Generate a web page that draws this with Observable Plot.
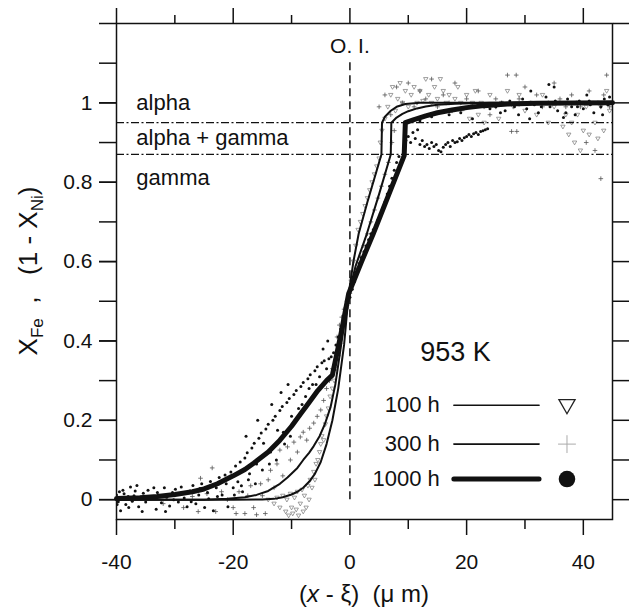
<!DOCTYPE html>
<html><head><meta charset="utf-8">
<script src="https://cdn.jsdelivr.net/npm/d3@7"></script>
<script src="https://cdn.jsdelivr.net/npm/@observablehq/plot@0.6"></script>
<style>body{margin:0;background:#fff} svg{font-family:"Liberation Sans",Arial,sans-serif}</style>
</head><body><div id="chart"></div>
<script>
const xMajor = [-40, -20, 0, 20, 40];
const xMinor = [-30, -10, 10, 30];
const yTicks = [0, 0.1, 0.2, 0.3, 0.4, 0.5, 0.6, 0.7, 0.8, 0.9, 1.0, 1.1, 1.2];
const yLabels = [0, 0.2, 0.4, 0.6, 0.8, 1];
const phaseBounds = [0.95, 0.87];
const phaseNames = ["alpha", "alpha + gamma", "gamma"];
const phaseY = [1.0, 0.912, 0.81];
const seriesNames = ["100 h", "300 h", "1000 h"];
const tempLabel = "953 K";
const oiLabel = "O. I.";

const curve100 = [[-40,0],[-20,0],[-15,0.0005],[-13,0.002],[-11.5,0.006],[-10,0.013],[-9,0.02],[-8,0.03],[-7,0.045],[-6,0.065],[-5,0.095],[-4,0.14],[-3,0.2],[-2,0.28],[-1,0.39],[-0.2,0.52],[0.6,0.6],[1.5,0.67],[3,0.75],[4.2,0.81],[5.4,0.87],[5.5,0.95],[6,0.965],[7,0.98],[8,0.99],[9.5,0.997],[12,1.0],[45,1.0]];
const curve300 = [[-40,0],[-25,0],[-21,0.002],[-18,0.006],[-16,0.012],[-14,0.022],[-12,0.04],[-10.7,0.056],[-9,0.08],[-8,0.1],[-7,0.118],[-6.2,0.135],[-5.2,0.16],[-4.3,0.19],[-3.3,0.234],[-2.5,0.29],[-1.5,0.39],[-0.2,0.52],[1,0.59],[2.9,0.67],[5,0.77],[7.0,0.87],[7.1,0.95],[8,0.963],[9,0.972],[10,0.979],[11.5,0.986],[13,0.991],[15,0.995],[18,0.998],[24,1.0],[45,1.0]];
const curve1000 = [[-40,0.003],[-36,0.005],[-33,0.008],[-30,0.013],[-27,0.02],[-25,0.027],[-22.7,0.04],[-20,0.06],[-18,0.076],[-16.5,0.092],[-14,0.12],[-12,0.15],[-10,0.185],[-8.5,0.215],[-7,0.245],[-5.5,0.275],[-4,0.3],[-3,0.314],[-1.5,0.42],[-0.2,0.52],[2,0.6],[4,0.67],[9.3,0.867],[9.5,0.95],[11,0.958],[13,0.967],[15,0.975],[17.5,0.982],[20,0.988],[23,0.993],[27,0.997],[32,0.999],[45,1.0]];

const dots1000 = [[-40,0.012],[-39.7,-0.005],[-39.5,0.02],[-39.3,-0.028],[-39,0.004],[-38.7,0.015],[-38.4,-0.012],[-38,0.008],[-37.6,0.032],[-37.3,-0.004],[-37,0.01],[-36.5,0.036],[-36.2,-0.018],[-35.8,0.006],[-35.4,0.016],[-35,-0.006],[-34.6,0.024],[-34.1,0.002],[-33.6,0.03],[-33.2,-0.024],[-32.8,0.012],[-32.3,-0.008],[-31.8,0.03],[-31.4,0.006],[-30.9,-0.016],[-30.4,0.018],[-29.9,0.026],[-29.4,-0.006],[-28.9,0.032],[-28.4,0.004],[-27.9,-0.018],[-27.4,0.022],[-26.9,0.036],[-26.4,-0.01],[-25.9,0.012],[-25.4,0.04],[-24.9,-0.02],[-24.4,0.018],[-23.9,0.046],[-23.4,-0.028],[-22.9,0.03],[-22.4,0.056],[-21.9,0.012],[-21.4,0.062],[-20.9,-0.018],[-20.4,0.07],[-20,0.03],
[-39.9,-0.012],[-38.9,0.024],[-37.9,-0.02],[-36.8,0.022],[-35.6,-0.03],[-34.4,0.008],[-33,0.018],[-31.6,-0.03],[-30.2,0.0],[-28.7,0.015],[-27.2,-0.005],[-25.7,0.028],[-24.2,0.002],[-22.7,0.008],[-21.2,0.04],[-19.8,0.012],[-18.6,0.035],[-17.4,0.05],[-16.2,0.04],[-15,0.075],[-13.8,0.09],[-12.6,0.1],[-11.4,0.17],[-10.2,0.16],[-9.4,0.2],[-8.2,0.24],[-7,0.28],[-5.8,0.29],[-4.6,0.38],[-3.8,0.4],[-17.8,0.16],[-15.8,0.2],[-13.4,0.24],[-11.8,0.27],[-10.6,0.29],
[-19.6,0.085],[-19.2,0.045],[-18.8,0.095],[-18.4,0.02],[-18,0.105],[-17.6,0.118],[-17.2,0.065],[-16.8,0.13],[-16.4,0.142],[-16,0.09],[-15.6,0.155],[-15.2,0.168],[-14.8,0.142],[-14.4,0.178],[-14,0.19],[-13.6,0.12],[-13.2,0.2],[-12.8,0.21],[-12.4,0.175],[-12,0.225],[-11.6,0.235],[-11.2,0.14],[-10.8,0.245],[-10.4,0.255],[-10,0.21],[-9.6,0.265],[-9.2,0.275],[-8.8,0.23],[-8.4,0.285],[-8,0.295],[-7.6,0.26],[-7.2,0.305],[-6.8,0.315],[-6.4,0.29],[-6,0.325],[-5.6,0.335],[-5.2,0.31],[-4.8,0.345],[-4.4,0.35],[-4,0.33],[-3.6,0.355],[-3.2,0.36],
[-2.8,0.37],[-2.4,0.39],[-2,0.41],[-1.6,0.43],[-1.2,0.45],[-0.8,0.47],[-0.4,0.49],[0,0.51],[0.4,0.53],[0.8,0.55],[1.2,0.575],[1.6,0.595],[2,0.61],[2.4,0.625],[2.8,0.64],[3.2,0.655],[3.6,0.67],[4,0.68],[4.4,0.69],[4.8,0.705],[5.2,0.72],[5.6,0.735],[6,0.75],[6.4,0.77],[6.8,0.79],[7.2,0.81],[7.6,0.83],[8,0.85],[8.4,0.865],
[9.6,0.905],[10,0.915],[10.4,0.9],[10.8,0.925],[11.2,0.91],[11.6,0.932],[12,0.895],[12.4,0.905],[12.8,0.89],[13.2,0.895],[13.6,0.885],[14,0.9],[14.4,0.89],[14.8,0.895],[15.2,0.88],[15.6,0.877],[16,0.888],[16.4,0.895],[16.8,0.9],[17.2,0.89],[17.6,0.905],[18,0.9],[18.4,0.902],[18.8,0.91],[19.2,0.905],[19.6,0.912],[20,0.915],[20.4,0.92],[20.8,0.915],[21.2,0.922],[21.6,0.925],[22,0.92],[22.4,0.928],[22.8,0.93],[23.2,0.932],[23.6,0.935],
[12,0.955],[14,0.965],[17,0.97],[19,0.975],[21,0.96],[24,0.985],
[25,0.99],[25.8,0.975],[26.6,0.98],[27.4,1.005],[28.2,0.99],[28.9,0.97],[29.6,1.01],[30.3,0.985],[31,1.03],[31.6,0.995],[32.3,0.975],[33,1.0],[33.6,1.015],[34.1,1.046],[34.3,0.99],[35,1.04],[35.6,0.98],[36.3,1.0],[36.6,0.963],[37.3,1.01],[38,0.99],[38.6,0.97],[39.3,1.005],[40,0.985],[40.6,1.02],[41.2,0.995],[41.8,0.975],[42.4,1.0],[43,0.99],[43.6,1.01],[44.2,0.995],[44.8,1.0],
[26,1.0],[29,0.995],[30.8,0.96],[32.8,0.99],[35.2,1.005],[37,0.975],[39,0.99],[41,1.005],[43.3,0.97],[44.5,1.015]];

const plus300 = [[-34,0.005],[-32,-0.01],[-30,0.012],[-28.5,-0.02],[-27,0.008],[-26,-0.03],[-25.6,0.054],[-24.5,0.015],[-23.6,0.08],[-23,-0.03],[-22,0.02],[-21,0.0],[-20,-0.02],[-19.5,-0.035],[-19,0.02],[-18,-0.035],[-17.5,0.01],[-17,0.035],[-16.5,-0.02],[-16,-0.038],[-15.3,0.04],[-15,0.01],[-14.5,-0.035],[-14,0.05],[-13.6,0.074],[-13,0.03],[-12.5,0.09],[-12,0.125],[-11.5,0.06],[-10.7,0.133],[-10.2,0.1],[-9.6,0.145],[-9,0.12],[-8.5,0.158],[-8,0.17],[-7.4,0.15],[-6.9,0.18],[-6.2,0.193],[-5.6,0.21],[-5,0.226],[-4.5,0.25],[-4,0.28],[-3.5,0.3],[-3,0.33],[-2.5,0.37],[-2.2,0.41],[-1.8,0.44],[-1.4,0.46],
[-1,0.48],[-0.5,0.5],[0,0.52],[0.6,0.55],[1.2,0.58],[1.8,0.61],[2.4,0.64],[3,0.67],[3.6,0.7],[4.2,0.73],[4.8,0.76],[5.4,0.79],[6,0.82],[6.6,0.85],[7.2,0.9],[7.6,0.93],
[5,0.99],[6,1.02],[7,0.97],[8,1.04],[9,1.0],[10,1.05],[11,0.99],[12,1.03],[13,1.01],[14,1.06],[15,0.99],[16,1.02],[17,1.0],[18,1.05],[19,0.98],[20,1.01],[21,0.995],[22,1.03],[23,0.99],[24,0.97],[25,1.01],[26,1.0],[27,1.07],[27.7,0.928],[28.5,1.07],[28.6,0.928],[29,1.01],[30,1.04],[31,1.0],[32,1.02],[33,0.99],[34,1.0],[35,1.05],[36,1.01],[37,0.99],[38,1.02],[38.8,1.0],[39.5,0.99],[40.5,0.9],[41,1.03],[42,0.88],[42.5,1.0],[43,0.809],[43.5,1.02],[44,1.07],[44.5,0.99]];

const tri100 = [[-14,0.0],[-13,-0.01],[-12.5,0.005],[-12,-0.02],[-11.5,0.01],[-11,-0.03],[-10.8,0.0],[-10.5,-0.04],[-10.2,0.015],[-10,-0.02],[-9.8,-0.035],[-9.5,0.005],[-9.2,-0.025],[-9,0.02],[-8.8,-0.04],[-8.5,-0.01],[-8.2,0.025],[-8,-0.03],[-7.8,0.01],[-7.5,-0.02],[-7.2,0.035],[-7,0.0],[-6.8,0.05],[-6.5,0.03],[-6.2,0.07],[-6,0.05],[-5.8,0.09],[-5.5,0.1],[-5.2,0.12],[-5,0.14],[-4.8,0.16],[-4.5,0.15],[-4.2,0.19],[-4,0.21],[-3.7,0.23],[-3.4,0.26],[-3,0.28],[-2.7,0.3],[-2.4,0.33],[-2,0.36],[-1.7,0.39],[-1.4,0.42],[-1,0.45],[-0.6,0.48],[-0.2,0.51],
[0.2,0.55],[0.6,0.6],[1,0.64],[1.4,0.68],[1.8,0.7],[2.2,0.72],[2.6,0.74],[3,0.76],[3.4,0.78],[3.8,0.8],[4.2,0.82],[4.6,0.84],[5,0.86],[5.2,0.9],[5.5,0.93],
[6,0.96],[6.5,0.99],[7,1.02],[7.3,1.04],[7.8,0.98],[8.2,1.01],[8.6,1.05],[9,1.0],[9.5,1.03],[10,0.99],[10.5,1.02],[11,1.04],[11.5,1.0],[12,1.03],[12.5,1.005],[13,1.06],[13.5,1.02],[14,1.0],[14.5,1.04],[15,1.01],[15.5,1.06],[16,1.03],[16.5,1.0],[17,1.02],[17.5,0.98],[18,1.01],[18.5,1.04],[19,1.0],[19.5,0.985],[20,1.02],[20.5,0.96],[21,1.0],[21.5,1.03],[22,0.97],[22.5,1.0],[23,0.95],[24,1.02],[25,0.99],[25.5,0.96],[26,1.0],[27,1.03],[28,0.99],[29,1.02],[30,0.98],[31,1.0],[32,0.97],[33,1.02],[34,0.95],[35,0.99],[36,1.0],[36.5,0.94],[37,0.97],[37.5,0.92],[38,0.95],[38.5,0.9],[39,0.97],[39.5,0.88],[40,0.93],[40.5,0.99],[41,0.92],[41.5,1.0],[42,0.95],[42.5,0.91],[43,0.99],[43.5,0.93],[44,1.03],[44.5,0.98]];

// legend layout (data units)
const legY = [0.238, 0.140, 0.052];
const legTextX = 15.4, legLineX1 = 17.9, legLineX2 = 32.5, legSymX = 37.2;

const triDown = {draw(ctx, size) {
  const r = Math.sqrt(size / Math.PI);
  ctx.moveTo(0, r); ctx.lineTo(r * 0.95, -r * 0.65); ctx.lineTo(-r * 0.95, -r * 0.65); ctx.closePath();
}};

const X = d => d[0], Y = d => d[1];
const font = '"Liberation Sans", Arial, sans-serif';
const blank = () => "";
const plain = d => String(d);

const legendRows = seriesNames.map((name, i) => ({name, y: legY[i], i}));

const chart = Plot.plot({
  width: 636, height: 610,
  marginLeft: 116, marginRight: 24, marginTop: 23, marginBottom: 91,
  x: {domain: [-40, 45]},
  y: {domain: [-0.05, 1.2]},
  style: {fontFamily: font, fontSize: "21px", color: "#111", background: "white"},
  marks: [
    Plot.dot(tri100, {x: X, y: Y, symbol: triDown, r: 2.3, stroke: "#777", strokeWidth: 0.7, fill: "none", clip: true}),
    Plot.dot(plus300, {x: X, y: Y, symbol: "plus", r: 1.6, stroke: "#555", strokeWidth: 0.8, fill: "none", clip: true}),
    Plot.dot(dots1000, {x: X, y: Y, r: 1.5, fill: "#111", stroke: "none", clip: true}),
    Plot.ruleY(phaseBounds, {stroke: "#111", strokeWidth: 1.3, strokeDasharray: "8,2.5,2,2.5"}),
    Plot.ruleX([0], {y1: 0, y2: 1.105, stroke: "#111", strokeWidth: 1.5, strokeDasharray: "8,5"}),
    Plot.line(curve100, {x: X, y: Y, stroke: "#111", strokeWidth: 2}),
    Plot.line(curve300, {x: X, y: Y, stroke: "#111", strokeWidth: 2}),
    Plot.line(curve1000, {x: X, y: Y, stroke: "#111", strokeWidth: 5, strokeLinejoin: "round"}),
    Plot.text(phaseNames, {x: -36.6, y: (d, i) => phaseY[i], text: d => d, textAnchor: "start", fontSize: 22, fill: "#111"}),
    Plot.text([oiLabel], {x: 0, y: 1.142, text: d => d, fontSize: 21, fill: "#111"}),
    Plot.text([tempLabel], {x: 18.1, y: 0.37, text: d => d, fontSize: 27, fill: "#111"}),
    // legend
    Plot.text(legendRows, {x: legTextX, y: "y", text: "name", textAnchor: "end", fontSize: 22, fill: "#111"}),
    Plot.ruleY(legendRows, {x1: legLineX1, x2: legLineX2, y: "y", stroke: "#111", strokeWidth: d => d.i === 2 ? 5 : 1.6, strokeLinecap: "round"}),
    Plot.dot([legendRows[0]], {x: legSymX, y: "y", symbol: triDown, r: 8.5, stroke: "#222", strokeWidth: 1.3, fill: "none"}),
    Plot.dot([legendRows[1]], {x: legSymX, y: "y", symbol: "plus", r: 5.8, stroke: "#aaa", strokeWidth: 1, fill: "none"}),
    Plot.dot([legendRows[2]], {x: legSymX, y: "y", r: 8.3, fill: "#111"}),
    // axes
    Plot.axisX({ticks: xMajor, tickSize: 16, tickPadding: 19, tickFormat: plain, label: null, stroke: "#111", strokeWidth: 1.5, fontSize: 21}),
    Plot.axisX({ticks: xMinor, tickSize: 10, tickFormat: blank, label: null, stroke: "#111", strokeWidth: 1.5}),
    Plot.axisX({anchor: "top", ticks: xMajor, tickSize: 16, tickFormat: blank, label: null, stroke: "#111", strokeWidth: 1.5}),
    Plot.axisX({anchor: "top", ticks: xMinor, tickSize: 9, tickFormat: blank, label: null, stroke: "#111", strokeWidth: 1.5}),
    Plot.axisY({ticks: yTicks, tickSize: 17, tickFormat: blank, label: null, stroke: "#111", strokeWidth: 1.5}),
    Plot.axisY({ticks: yLabels, tickSize: 17, tickPadding: 7, tickFormat: plain, label: null, stroke: "#111", strokeWidth: 1.5, fontSize: 21}),
    Plot.axisY({anchor: "right", ticks: yTicks, tickSize: 16, tickFormat: blank, label: null, stroke: "#111", strokeWidth: 1.5}),
    Plot.frame({stroke: "#111", strokeWidth: 1.5})
  ]
});
document.getElementById("chart").appendChild(chart);

// axis titles with sub/italic styling
const svg = d3.select(chart);
const yt = svg.append("text").attr("transform", "translate(37,271) rotate(-90)")
  .attr("text-anchor", "middle").attr("font-size", 26).attr("fill", "#111").attr("font-family", font)
  .style("white-space", "pre");
yt.append("tspan").text("X");
yt.append("tspan").attr("font-size", 17).attr("dy", 6).text("Fe");
yt.append("tspan").attr("dy", -6).text("  ,   (1 - X");
yt.append("tspan").attr("font-size", 17).attr("dy", 6).text("Ni");
yt.append("tspan").attr("dy", -6).text(")");

const xt = svg.append("text").attr("x", 364).attr("y", 602)
  .attr("text-anchor", "middle").attr("font-size", 24).attr("fill", "#111").attr("font-family", font)
  .style("white-space", "pre");
xt.append("tspan").text("(");
xt.append("tspan").attr("font-style", "italic").text("x");
xt.append("tspan").text(" - ξ)  (μ m)");
</script></body></html>
